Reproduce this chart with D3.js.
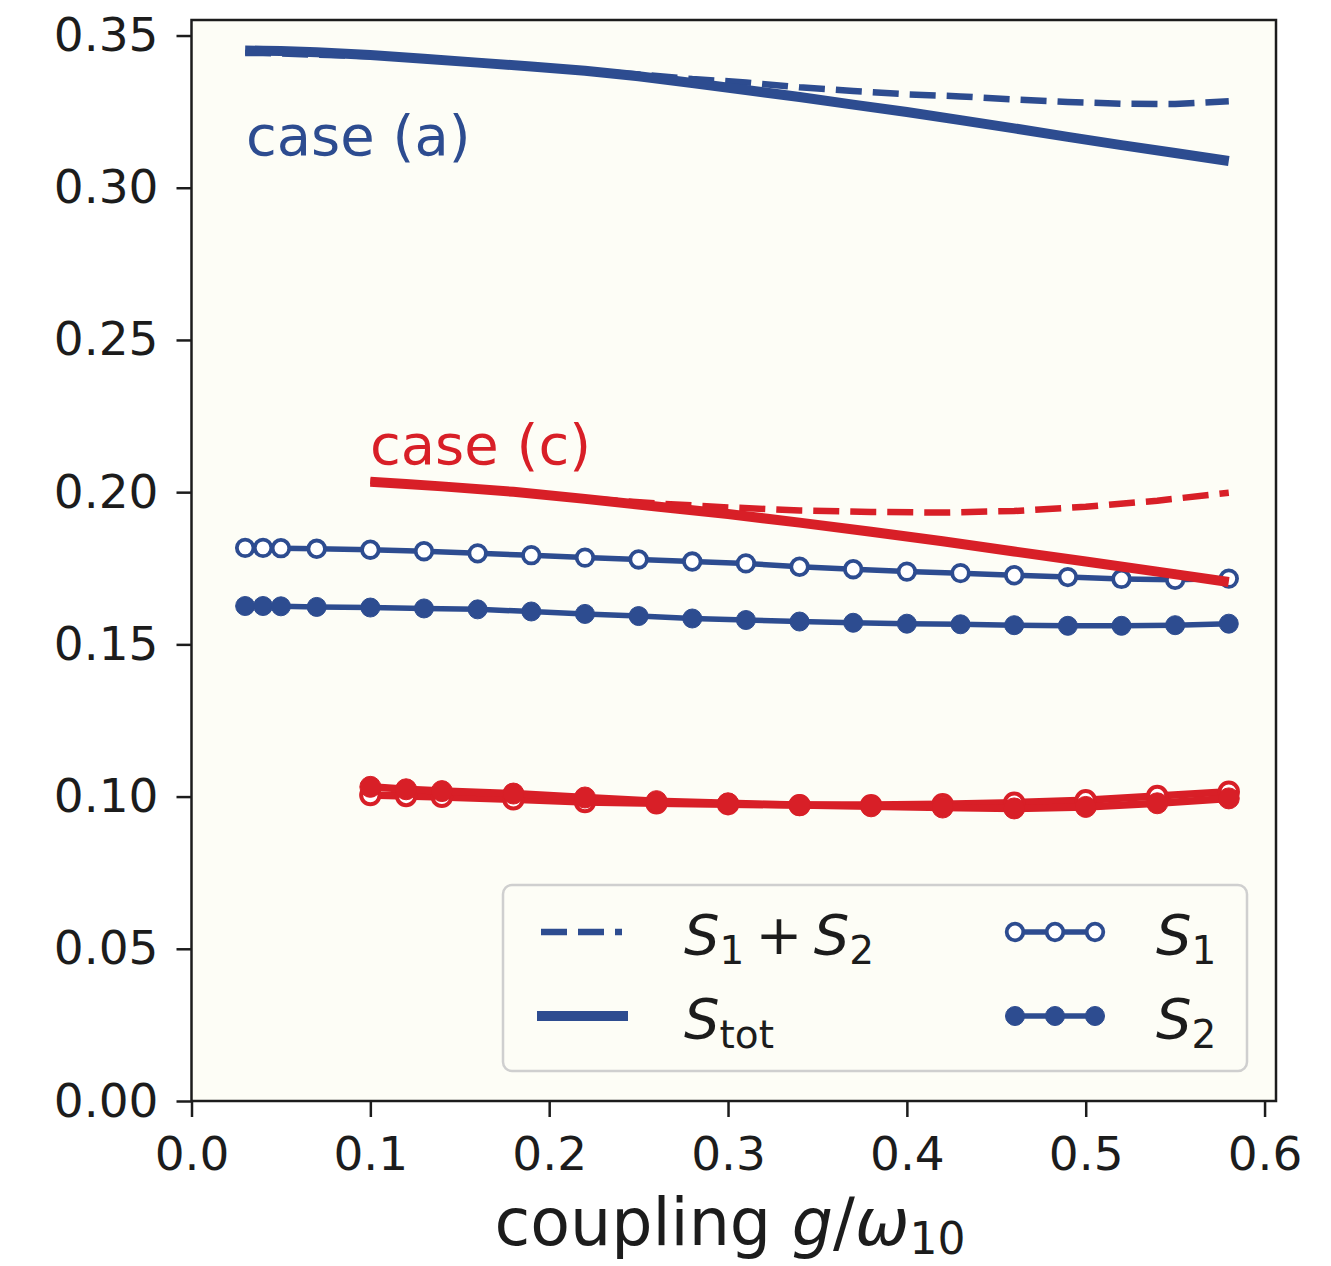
<!DOCTYPE html>
<html>
<head>
<meta charset="utf-8">
<script src="https://cdn.jsdelivr.net/npm/d3@7"></script>
<style>
  html, body { margin: 0; padding: 0; background: #ffffff; }
  svg { display: block; }
  text { font-family: "DejaVu Sans", sans-serif; }
</style>
</head>
<body>
<svg id="chart" width="1331" height="1266"></svg>
<script>
// ---------------- data ----------------
const xTicks = [0.0, 0.1, 0.2, 0.3, 0.4, 0.5, 0.6];
const yTicks = [0.00, 0.05, 0.10, 0.15, 0.20, 0.25, 0.30, 0.35];

// case (a) — blue
const gA = [0.03, 0.04, 0.05, 0.07, 0.10, 0.13, 0.16, 0.19, 0.22, 0.25, 0.28,
            0.31, 0.34, 0.37, 0.40, 0.43, 0.46, 0.49, 0.52, 0.55, 0.58];
const S1a = [0.1817, 0.1817, 0.1816, 0.1814, 0.1811, 0.1806, 0.1799, 0.1793, 0.1785, 0.1779, 0.1772,
             0.1766, 0.1755, 0.1747, 0.1739, 0.1734, 0.1727, 0.1721, 0.1715, 0.1712, 0.1716];
const S2a = [0.1626, 0.1626, 0.1625, 0.1623, 0.1621, 0.1618, 0.1615, 0.1608, 0.1600, 0.1593, 0.1585,
             0.1580, 0.1575, 0.1571, 0.1568, 0.1566, 0.1563, 0.1561, 0.1561, 0.1563, 0.1568];
const SumA = [0.3443, 0.3443, 0.3441, 0.3437, 0.3432, 0.3424, 0.3414, 0.3401, 0.3385, 0.3372, 0.3357,
              0.3346, 0.3330, 0.3318, 0.3307, 0.3300, 0.3290, 0.3282, 0.3276, 0.3275, 0.3284];
const StotA = [0.3451, 0.3450, 0.3449, 0.3445, 0.3436, 0.3424, 0.3411, 0.3398, 0.3384, 0.3366, 0.3344,
               0.3321, 0.3298, 0.3273, 0.3249, 0.3222, 0.3195, 0.3167, 0.3140, 0.3114, 0.3088];

// case (c) — red
const gC = [0.10, 0.12, 0.14, 0.18, 0.22, 0.26, 0.30, 0.34, 0.38, 0.42, 0.46, 0.50, 0.54, 0.58];
const S1c = [0.1005, 0.1002, 0.0999, 0.0991, 0.0982, 0.0978, 0.0975, 0.0972, 0.0972, 0.0975, 0.0980, 0.0988, 0.1002, 0.1016];
const S2c = [0.1032, 0.1024, 0.1018, 0.1010, 0.0997, 0.0985, 0.0978, 0.0972, 0.0968, 0.0964, 0.0961, 0.0966, 0.0978, 0.0994];
const SumC = [0.2037, 0.2026, 0.2017, 0.2001, 0.1979, 0.1963, 0.1950, 0.1940, 0.1935, 0.1933, 0.1938, 0.1952, 0.1972, 0.1998];
const StotC = [0.2034, 0.2027, 0.2019, 0.2001, 0.1978, 0.1953, 0.1928, 0.1900, 0.1870, 0.1839, 0.1805, 0.1772, 0.1739, 0.1705];

// ---------------- styling ----------------
const BLUE = "#2d4c90";
const RED = "#d81f27";
const INK = "#1c1c1c";

const svg = d3.select("#chart");
const L = 191.5, R = 1276, T = 20, B = 1101;

const x = d3.scaleLinear().domain([0, 0.6064]).range([L, R]);
const y = d3.scaleLinear().domain([0, 0.3551]).range([B, T]);

// plot background
svg.append("rect").attr("x", L).attr("y", T).attr("width", R - L).attr("height", B - T)
  .attr("fill", "#fdfdf6");

const zip = (xs, ys) => xs.map((v, i) => [v, ys[i]]);
const line = d3.line().x(d => x(d[0])).y(d => y(d[1]));

const plot = svg.append("g");

function drawLine(data, color, width, dash) {
  plot.append("path").datum(data)
    .attr("d", line).attr("fill", "none")
    .attr("stroke", color).attr("stroke-width", width)
    .attr("stroke-dasharray", dash || null)
    .attr("stroke-linejoin", "round");
}
function drawMarkers(data, color, r, open, sw) {
  plot.append("g").selectAll("circle").data(data).join("circle")
    .attr("cx", d => x(d[0])).attr("cy", d => y(d[1])).attr("r", r)
    .attr("fill", open ? "#ffffff" : color)
    .attr("stroke", color).attr("stroke-width", sw);
}

// case (a)
drawLine(zip(gA, SumA), BLUE, 6.5, "26,11");
drawLine(zip(gA, StotA), BLUE, 10);
drawLine(zip(gA, S1a), BLUE, 5.5);
drawMarkers(zip(gA, S1a), BLUE, 8.3, true, 3.8);
drawLine(zip(gA, S2a), BLUE, 5.5);
drawMarkers(zip(gA, S2a), BLUE, 9.5, false, 1);

// case (c)
drawLine(zip(gC, SumC), RED, 6.5, "26,11");
drawLine(zip(gC, StotC), RED, 10);
drawLine(zip(gC, S1c), RED, 7.5);
drawMarkers(zip(gC, S1c), RED, 9.2, true, 4);
drawLine(zip(gC, S2c), RED, 7.5);
drawMarkers(zip(gC, S2c), RED, 10.5, false, 1);

// annotations
svg.append("text").attr("x", 246).attr("y", 155).attr("font-size", 56)
  .attr("fill", BLUE).text("case (a)");
svg.append("text").attr("x", 370).attr("y", 464).attr("font-size", 56)
  .attr("fill", RED).text("case (c)");

// axes
const yAxis = d3.axisLeft(y).tickValues(yTicks).tickFormat(d3.format(".2f"))
  .tickSize(15).tickPadding(18);
const xAxis = d3.axisBottom(x).tickValues(xTicks).tickFormat(d3.format(".1f"))
  .tickSize(16).tickPadding(20);

const gy = svg.append("g").attr("transform", `translate(${L},0)`).call(yAxis);
const gx = svg.append("g").attr("transform", `translate(0,${B})`).call(xAxis);
[gy, gx].forEach(g => {
  g.select(".domain").remove();
  g.selectAll("line").attr("stroke", INK).attr("stroke-width", 2.5);
  g.selectAll("text").attr("font-size", 47).attr("fill", INK)
    .attr("font-family", "DejaVu Sans");
});

// frame
svg.append("rect").attr("x", L).attr("y", T).attr("width", R - L).attr("height", B - T)
  .attr("fill", "none").attr("stroke", INK).attr("stroke-width", 2.5);

// x label
const xl = svg.append("text").attr("x", 730).attr("y", 1245)
  .attr("text-anchor", "middle").attr("font-size", 65).attr("fill", INK);
xl.append("tspan").text("coupling ");
xl.append("tspan").attr("font-style", "italic").text("g");
xl.append("tspan").text("/");
xl.append("tspan").attr("font-style", "italic").text("ω");
xl.append("tspan").attr("font-size", 44).attr("dy", 9).text("10");

// legend
const lg = svg.append("g");
lg.append("rect").attr("x", 503).attr("y", 885).attr("width", 744).attr("height", 186)
  .attr("rx", 9).attr("fill", "#fdfdf6").attr("fill-opacity", 0.85)
  .attr("stroke", "#cfcfcf").attr("stroke-width", 2.5);

const legendItems = [
  {type: "dash", x0: 541, x1: 622, yc: 932, label: [["S", true], ["1", false, "sub"], ["\u2009+\u2009", false], ["S", true], ["2", false, "sub"]], tx: 684},
  {type: "solid", x0: 537, x1: 628, yc: 1016, label: [["S", true], ["tot", false, "sub"]], tx: 684},
  {type: "open", x0: 1005, x1: 1105, yc: 932, label: [["S", true], ["1", false, "sub"]], tx: 1156},
  {type: "filled", x0: 1005, x1: 1105, yc: 1016, label: [["S", true], ["2", false, "sub"]], tx: 1156}
];

legendItems.forEach(it => {
  if (it.type === "dash") {
    lg.append("line").attr("x1", it.x0).attr("x2", it.x1).attr("y1", it.yc).attr("y2", it.yc)
      .attr("stroke", BLUE).attr("stroke-width", 6.5).attr("stroke-dasharray", "26,11");
  } else if (it.type === "solid") {
    lg.append("line").attr("x1", it.x0).attr("x2", it.x1).attr("y1", it.yc).attr("y2", it.yc)
      .attr("stroke", BLUE).attr("stroke-width", 10);
  } else {
    lg.append("line").attr("x1", it.x0 + 8).attr("x2", it.x1 - 8).attr("y1", it.yc).attr("y2", it.yc)
      .attr("stroke", BLUE).attr("stroke-width", 5.5);
    [it.x0 + 10, (it.x0 + it.x1) / 2, it.x1 - 10].forEach(cx => {
      lg.append("circle").attr("cx", cx).attr("cy", it.yc)
        .attr("r", it.type === "open" ? 8.3 : 9.5)
        .attr("fill", it.type === "open" ? "#ffffff" : BLUE)
        .attr("stroke", BLUE).attr("stroke-width", it.type === "open" ? 3.8 : 1);
    });
  }
  const t = lg.append("text").attr("x", it.tx).attr("y", it.yc + 22)
    .attr("font-size", 56).attr("fill", INK);
  let down = false;
  it.label.forEach(([s, ital, sub]) => {
    const ts = t.append("tspan").text(s);
    if (ital) ts.attr("font-style", "italic");
    if (sub && !down) { ts.attr("font-size", 39).attr("dy", 10); down = true; }
    else if (!sub && down) { ts.attr("dy", -10); down = false; }
    else if (sub) ts.attr("font-size", 39);
  });
});
</script>
</body>
</html>
